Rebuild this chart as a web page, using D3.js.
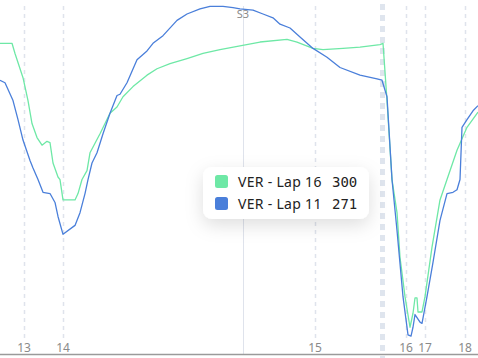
<!DOCTYPE html>
<html>
<head>
<meta charset="utf-8">
<script src="https://cdn.jsdelivr.net/npm/d3@7"></script>
<style>
  html, body { margin: 0; padding: 0; background: #fff; }
  svg { display: block; font-family: "Noto Sans", "Open Sans", sans-serif; }
</style>
</head>
<body>
<svg id="chart" width="478" height="358"></svg>
<script>
// distance (m) et vitesse (km/h)
const lap16Dist = [3600, 3624, 3630, 3646, 3656, 3664, 3674, 3684, 3694, 3700, 3706, 3716, 3720, 3726, 3750, 3756, 3764, 3774, 3780, 3800, 3820, 3834, 3846, 3866, 3894, 3914, 3940, 3974, 4006, 4040, 4080, 4120, 4174, 4194, 4226, 4246, 4286, 4320, 4360, 4366, 4374, 4384, 4394, 4400, 4410, 4420, 4426, 4430, 4434, 4436, 4444, 4450, 4464, 4480, 4494, 4514, 4534, 4556];
const lap16Speed = [300, 300, 292, 273, 255, 237, 226, 220, 223, 222, 206, 195, 193, 177, 177, 182, 193, 200, 214, 229, 245, 250, 258, 266, 275, 280, 284, 288, 292, 295, 298, 301, 303, 301, 296, 295, 296, 297, 299, 300, 255, 193, 167, 132, 101, 77, 88, 100, 100, 89, 89, 101, 140, 177, 193, 216, 234, 246];

const lap11Dist = [3600, 3610, 3626, 3636, 3646, 3660, 3666, 3676, 3686, 3700, 3710, 3716, 3726, 3750, 3760, 3770, 3776, 3784, 3794, 3806, 3820, 3834, 3840, 3854, 3874, 3894, 3906, 3926, 3954, 3974, 4000, 4020, 4046, 4066, 4080, 4106, 4126, 4146, 4160, 4180, 4200, 4226, 4254, 4280, 4320, 4354, 4364, 4374, 4384, 4394, 4406, 4416, 4422, 4426, 4430, 4440, 4444, 4454, 4466, 4480, 4494, 4506, 4514, 4520, 4524, 4534, 4546, 4556];
const lap11Speed = [271, 269, 255, 240, 224, 208, 202, 193, 183, 182, 175, 164, 150, 157, 167, 182, 193, 206, 214, 229, 245, 259, 260, 269, 287, 294, 300, 306, 318, 323, 327, 329, 329, 328, 327, 326, 323, 320, 315, 312, 305, 296, 289, 281, 275, 272, 271, 258, 193, 153, 101, 71, 70, 77, 87, 81, 80, 101, 128, 161, 182, 183, 185, 193, 234, 240, 247, 251];

// virages et secteur
const cornerNames = ["13", "14", "15", "16", "17", "18"];
const cornerDist = [3648, 3726, 4230, 4412, 4450, 4530];
const sectorNames = ["S3"];
const sectorDist = [4086];

// curseur + infobulle
const cursorDist = 4365;
const seriesNames = ["VER - Lap 16", "VER - Lap 11"];
const seriesValues = [300, 271];
const seriesColors = ["#6ee8a6", "#4a7fda"];

const width = 478;
const height = 358;
const svg = d3.select("#chart");

const x = d3.scaleLinear().domain([3600, 4556]).range([0, width]);
const y = d3.scaleLinear().domain([56, 334]).range([354, 0]);

// ombre de l'infobulle
const defs = svg.append("defs");
const filter = defs.append("filter").attr("id", "shadow")
  .attr("x", "-40%").attr("y", "-80%").attr("width", "180%").attr("height", "280%");
filter.append("feDropShadow").attr("dx", 0).attr("dy", 6).attr("stdDeviation", 9)
  .attr("flood-color", "#000").attr("flood-opacity", 0.13);

// lignes des virages
svg.append("g").selectAll("line")
  .data(cornerDist)
  .enter()
  .append("line")
  .attr("x1", d => Math.round(x(d)) + 0.5)
  .attr("x2", d => Math.round(x(d)) + 0.5)
  .attr("y1", 6)
  .attr("y2", 342)
  .attr("stroke", "#dfe3ec")
  .attr("stroke-width", 1.5)
  .attr("stroke-dasharray", "4,4");

// ligne du secteur
svg.append("g").selectAll("line")
  .data(sectorDist)
  .enter()
  .append("line")
  .attr("x1", d => Math.round(x(d)) + 0.5)
  .attr("x2", d => Math.round(x(d)) + 0.5)
  .attr("y1", 6)
  .attr("y2", 354)
  .attr("stroke", "#dfe3ec")
  .attr("stroke-width", 1);

svg.append("g").selectAll("text")
  .data(sectorDist)
  .enter()
  .append("text")
  .attr("x", d => x(d))
  .attr("y", 18)
  .attr("text-anchor", "middle")
  .attr("font-size", 11)
  .attr("fill", "#8a8a8a")
  .text((d, i) => sectorNames[i]);

// courbes
const line = d3.line()
  .x(d => x(d[0]))
  .y(d => y(d[1]));

const lap16 = lap16Dist.map((d, i) => [d, lap16Speed[i]]);
const lap11 = lap11Dist.map((d, i) => [d, lap11Speed[i]]);

svg.append("path")
  .datum(lap16)
  .attr("d", line)
  .attr("fill", "none")
  .attr("stroke", seriesColors[0])
  .attr("stroke-width", 1.3)
  .attr("stroke-linejoin", "round");

svg.append("path")
  .datum(lap11)
  .attr("d", line)
  .attr("fill", "none")
  .attr("stroke", seriesColors[1])
  .attr("stroke-width", 1.3)
  .attr("stroke-linejoin", "round");

// curseur
svg.append("line")
  .attr("x1", x(cursorDist))
  .attr("x2", x(cursorDist))
  .attr("y1", 4)
  .attr("y2", 358)
  .attr("stroke", "#dfe5ee")
  .attr("stroke-width", 5)
  .attr("stroke-dasharray", "6,5")
  .lower();

// axe du bas
svg.append("line")
  .attr("x1", 0)
  .attr("x2", width)
  .attr("y1", 354.5)
  .attr("y2", 354.5)
  .attr("stroke", "#9a9a9a")
  .attr("stroke-width", 1.5);

svg.append("g").selectAll("text")
  .data(cornerDist)
  .enter()
  .append("text")
  .attr("x", d => x(d))
  .attr("y", 352)
  .attr("text-anchor", "middle")
  .attr("font-size", 12)
  .attr("fill", "#8a8a8a")
  .text((d, i) => cornerNames[i]);

// infobulle
const tip = svg.append("g").attr("transform", "translate(203,167)");
tip.append("rect")
  .attr("width", 166)
  .attr("height", 52)
  .attr("rx", 9)
  .attr("fill", "#fff")
  .attr("filter", "url(#shadow)");

const rows = tip.selectAll("g.row")
  .data(seriesNames)
  .enter()
  .append("g")
  .attr("class", "row")
  .attr("transform", (d, i) => `translate(0,${8 + i * 22})`);

rows.append("rect")
  .attr("x", 12)
  .attr("width", 13)
  .attr("height", 13)
  .attr("rx", 2.5)
  .attr("fill", (d, i) => seriesColors[i]);

rows.append("text")
  .attr("x", 35)
  .attr("y", 12)
  .attr("font-size", 14)
  .attr("letter-spacing", 0.3)
  .attr("fill", "#222")
  .text(d => d);

rows.append("text")
  .attr("x", 129)
  .attr("y", 12)
  .attr("font-size", 14)
  .attr("font-family", "'DejaVu Sans Mono', monospace")
  .attr("fill", "#222")
  .text((d, i) => seriesValues[i]);
</script>
</body>
</html>
